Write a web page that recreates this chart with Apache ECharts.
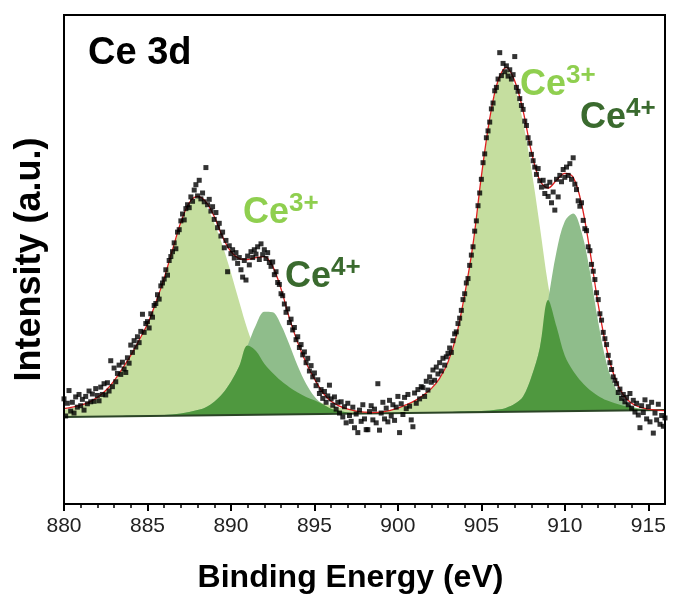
<!DOCTYPE html>
<html>
<head>
<meta charset="utf-8">
<script src="https://cdn.jsdelivr.net/npm/echarts@6/dist/echarts.min.js"></script>
<style>
  html, body { margin: 0; padding: 0; background: #fff; }
  #chart { width: 675px; height: 603px; }
</style>
</head>
<body>
<div id="chart"></div>
<script>
const FONT = "'Liberation Sans', Arial, Helvetica, sans-serif";

// Energy grid of the fitted curves (eV)
const fitEnergy = [
  880, 880.5, 881, 881.5, 882, 882.5, 883, 883.5, 884, 884.5,
  885, 885.5, 886, 886.5, 887, 887.5, 888, 888.5, 889, 889.5,
  890, 890.5, 891, 891.5, 892, 892.5, 893, 893.5, 894, 894.5,
  895, 895.5, 896, 896.5, 897, 897.5, 898, 898.5, 899, 899.5,
  900, 900.5, 901, 901.5, 902, 902.5, 903, 903.5, 904, 904.5,
  905, 905.5, 906, 906.5, 907, 907.5, 908, 908.5, 909, 909.5,
  910, 910.5, 911, 911.5, 912, 912.5, 913, 913.5, 914, 914.5,
  915, 915.5, 916
];

// Ce3+ component (3d5/2 and 3d3/2), baseline included
const fitCe3 = [
  19.3, 19.6, 20.0, 20.6, 21.6, 23.0, 25.0, 27.5, 30.2, 33.3,
  36.6, 41.0, 46.0, 51.8, 57.2, 61.2, 62.6, 61.0, 57.4, 52.8,
  47.3, 41.3, 35.6, 31.3, 28.7, 26.8, 25.2, 23.9, 22.8, 21.9,
  21.2, 20.6, 20.1, 19.7, 19.3, 19.0, 18.8, 18.7, 18.8, 19.1,
  19.5, 20.2, 21.0, 22.1, 23.5, 25.5, 28.7, 34.1, 42.4, 52.7,
  66.7, 78.4, 86.2, 88.8, 85.2, 78.0, 68.4, 56.8, 44.8, 36.3,
  30.3, 27.2, 25.0, 23.3, 22.1, 21.2, 20.6, 20.1, 19.7, 19.45,
  19.3, 19.2, 19.2
];

// Ce4+ component, baseline included
const fitCe4 = [
  17.85, 17.85, 17.9, 17.9, 17.95, 17.95, 18.0, 18.0, 18.05, 18.05,
  18.1, 18.15, 18.2, 18.3, 18.5, 18.8, 19.2, 19.8, 20.9, 22.6,
  25.0, 28.2, 32.4, 36.6, 39.3, 39.2, 36.6, 32.6, 28.2, 24.6,
  22.0, 20.4, 19.5, 19.0, 18.7, 18.55, 18.5, 18.5, 18.55, 18.6,
  18.6, 18.65, 18.7, 18.7, 18.75, 18.8, 18.8, 18.85, 18.9, 18.95,
  19.0, 19.1, 19.3, 19.7, 20.5, 22.0, 26.0, 31.9, 41.7, 51.6,
  57.8, 59.4, 55.6, 47.6, 37.2, 28.8, 24.0, 21.3, 20.0, 19.5,
  19.3, 19.2, 19.15
];

// Cumulative fit envelope
const fitEnvelope = [
  19.5, 19.8, 20.2, 20.8, 21.8, 23.2, 25.2, 27.7, 30.4, 33.5,
  36.8, 41.2, 46.2, 52.0, 57.6, 61.6, 62.9, 61.8, 58.8, 54.6,
  51.6, 50.2, 50.0, 50.4, 50.6, 48.6, 44.0, 38.0, 33.0, 28.9,
  25.6, 22.8, 21.0, 20.0, 19.4, 19.0, 18.8, 18.7, 18.8, 19.1,
  19.6, 20.3, 21.1, 22.2, 23.6, 25.7, 29.0, 34.4, 42.8, 53.1,
  67.0, 78.8, 86.6, 89.3, 86.5, 80.4, 72.0, 66.2, 64.6, 66.2,
  67.6, 66.8, 61.4, 51.8, 40.8, 31.8, 25.8, 22.3, 20.6, 19.8,
  19.4, 19.2, 19.1
];

// Linear background
const baselineEnergy = [880, 916];
const baselineLevel = [17.8, 19.2];

// Measured spectrum: 0.1 eV channels starting at 880 eV
const scanStart = 880;
const scanStep = 0.1;
const scanCounts = [
  21.5, 18.0, 20.6, 23.2, 19.0, 20.8, 18.6, 21.9, 19.8, 22.4,
  20.1, 21.4, 19.2, 22.0, 20.5, 23.1, 20.9, 22.5, 21.0, 23.6,
  22.2, 21.1, 23.9, 22.4, 24.6, 22.3, 24.8, 23.1, 29.3, 24.0,
  27.8, 25.0, 26.7, 28.4, 26.5, 29.0, 27.6, 26.9, 29.9, 28.8,
  32.5, 31.0, 33.4, 32.1, 34.2, 33.0, 35.3, 38.8, 35.1, 36.9,
  37.3, 36.0, 38.9, 38.2, 40.6, 41.0, 42.8, 41.9, 44.6, 45.2,
  46.0, 47.9, 46.8, 49.8, 50.6, 51.6, 53.4, 52.2, 55.6, 56.1,
  57.9, 59.3, 58.1, 60.4, 61.2, 60.6, 62.8, 61.9, 64.2, 65.3,
  63.0, 66.2, 62.4, 63.6, 61.8, 68.8, 61.2, 62.3, 59.9, 60.8,
  58.2, 59.6, 56.5, 57.4, 54.8, 55.6, 52.4, 53.9, 47.5, 52.8,
  51.2, 52.0, 50.3, 51.4, 49.2, 50.4, 47.9, 46.4, 49.8, 45.8,
  50.7, 48.9, 51.6, 50.4, 52.0, 51.1, 52.6, 50.0, 53.2, 51.0,
  52.0, 50.2, 51.4, 49.4, 48.6, 49.5, 46.9, 47.5, 45.3, 44.9,
  43.0, 42.6, 40.9, 39.2, 39.9, 37.1, 37.8, 35.6, 36.1, 33.6,
  34.2, 32.0, 32.6, 30.5, 31.1, 28.9, 29.8, 27.2, 28.3, 26.0,
  26.8, 24.2, 25.4, 22.6, 23.4, 21.6, 23.0, 20.8, 22.1, 24.3,
  21.5, 20.2, 21.9, 19.4, 20.8, 18.6, 20.9, 17.8, 19.9, 16.6,
  20.6, 18.1, 16.9, 19.8, 15.6, 18.4, 14.6, 19.2, 16.9, 20.3,
  17.4, 15.2, 15.2, 18.9, 20.1, 17.2, 19.4, 16.6, 24.6, 15.1,
  18.6, 20.8, 17.4, 19.6, 16.8, 21.2, 18.0, 20.3, 17.1, 19.8,
  22.0, 14.6, 20.5, 18.3, 21.8, 19.5, 22.4, 20.0, 17.2, 15.8,
  22.7, 20.6, 23.4, 21.5, 24.0, 23.8, 22.0, 25.1, 23.3, 26.0,
  24.9, 27.4, 25.3, 28.0, 26.6, 28.9, 27.2, 29.8, 28.4, 30.1,
  30.8, 31.9, 31.0, 33.4, 34.8, 35.2, 36.9, 38.0, 39.6, 41.8,
  43.0, 45.2, 46.1, 48.8, 50.9, 52.6, 55.8, 57.9, 61.0, 63.6,
  66.4, 69.8, 71.6, 74.9, 76.3, 78.1, 80.8, 82.0, 84.5, 85.2,
  86.9, 92.3, 87.6, 90.1, 88.4, 89.6, 87.5, 88.8, 86.9, 87.8,
  91.5, 85.2, 84.4, 82.9, 81.5, 80.7, 78.3, 77.4, 74.9, 73.8,
  71.5, 70.2, 68.9, 67.4, 68.6, 66.1, 64.8, 66.2, 63.5, 65.0,
  62.9, 65.8, 61.6, 63.8, 60.1, 66.4, 62.8, 67.2, 65.9, 68.4,
  66.8, 68.9, 67.2, 69.6, 66.4, 70.8, 65.4, 64.3, 62.0, 60.9,
  61.6, 58.0, 56.3, 55.9, 52.6, 51.8, 49.0, 47.6, 45.9, 43.2,
  41.8, 38.9, 37.6, 35.1, 33.8, 32.6, 30.4, 28.9, 27.5, 26.0,
  25.3, 24.6, 22.8, 23.5, 21.6, 22.4, 20.9, 21.8, 20.3, 22.6,
  19.6, 21.2, 18.8, 20.6, 18.2, 15.6, 20.1, 18.7, 21.3, 17.4,
  19.9, 16.8, 20.8, 14.5, 18.6, 17.2, 20.4, 16.3, 18.1, 15.9,
  17.6
];

// Labelled major ticks and 1 eV minor ticks
const xMajorTicks = [880, 885, 890, 895, 900, 905, 910, 915];
const xMinorTicks = [
  881, 882, 883, 884, 886, 887, 888, 889, 891, 892, 893, 894,
  896, 897, 898, 899, 901, 902, 903, 904, 906, 907, 908, 909,
  911, 912, 913, 914
];

const COLORS = {
  ce3Fill: '#c5de9f',
  ce4Fill: '#8fbd8b',
  overlapFill: '#4f983f',
  baseline: '#2b4426',
  envelope: '#de2020',
  ce3Text: '#8fcf4f',
  ce4Text: '#3a6a2e'
};

const pairs = (xs, ys) => xs.map((x, i) => [x, ys[i]]);
// region shared by both components: lower of the two curves
const sharedArea = fitCe3.map((v, i) => Math.min(v, fitCe4[i]));
const scanPoints = scanCounts.map((c, i) => [+(scanStart + i * scanStep).toFixed(1), c]);

function ionLabel(x, y, charge, color) {
  return [
    {
      type: 'text', x: x, y: y, z: 20,
      style: { text: 'Ce', font: 'bold 36px ' + FONT, fill: color,
               align: 'left', verticalAlign: 'middle', textAlign: 'left', textVerticalAlign: 'middle' }
    },
    {
      type: 'text', x: x + 46, y: y - 9, z: 20,
      style: { text: charge, font: 'bold 26px ' + FONT, fill: color,
               align: 'left', verticalAlign: 'middle', textAlign: 'left', textVerticalAlign: 'middle' }
    }
  ];
}

const areaSeries = (name, data, color, z) => ({
  type: 'line', name: name, data: data, smooth: 0.35, showSymbol: false, silent: true,
  lineStyle: { width: 0 }, areaStyle: { color: color, opacity: 1, origin: 'start' }, z: z
});

const gridBox = { left: 64, right: 10, top: 15, bottom: 99, containLabel: false, outerBoundsMode: 'none' };
const axisLineStyle = { show: true, onZero: false, lineStyle: { color: '#000', width: 2 } };

const chart = echarts.init(document.getElementById('chart'), null, { renderer: 'canvas' });

chart.setOption({
  animation: false,
  backgroundColor: '#fff',
  grid: [
    Object.assign({ show: true, borderColor: '#000', borderWidth: 2, backgroundColor: 'transparent' }, gridBox),
    Object.assign({}, gridBox)
  ],
  xAxis: [
    {
      type: 'value', gridIndex: 0, min: 880, max: 916, interval: 5, z: 10,
      name: 'Binding Energy (eV)', nameLocation: 'middle', nameGap: 58,
      nameTextStyle: { fontFamily: FONT, fontWeight: 'bold', fontSize: 32, color: '#000', padding: [0, 28, 0, 0] },
      axisLine: axisLineStyle,
      axisTick: { show: true, inside: false, length: 7, lineStyle: { color: '#000', width: 2 }, customValues: xMajorTicks },
      axisLabel: { show: true, fontFamily: FONT, fontSize: 21, color: '#222', margin: 12, customValues: xMajorTicks },
      splitLine: { show: false }, minorTick: { show: false }
    },
    {
      type: 'value', gridIndex: 1, min: 880, max: 916, interval: 1, z: 9, position: 'bottom',
      axisLine: axisLineStyle,
      axisTick: { show: true, inside: false, length: 4, lineStyle: { color: '#000', width: 1.5 }, customValues: xMinorTicks },
      axisLabel: { show: false }, splitLine: { show: false }
    }
  ],
  yAxis: [
    {
      type: 'value', gridIndex: 0, min: 0, max: 100, z: 10,
      name: 'Intensity (a.u.)', nameLocation: 'middle', nameGap: 16, nameRotate: 90,
      nameTextStyle: { fontFamily: FONT, fontWeight: 'bold', fontSize: 36, color: '#000' },
      axisLine: axisLineStyle,
      axisTick: { show: false }, axisLabel: { show: false }, splitLine: { show: false }
    },
    {
      type: 'value', gridIndex: 0, position: 'right', min: 0, max: 100, z: 10,
      axisLine: axisLineStyle,
      axisTick: { show: false }, axisLabel: { show: false }, splitLine: { show: false }
    },
    {
      type: 'value', gridIndex: 1, min: 0, max: 100,
      axisLine: { show: false }, axisTick: { show: false }, axisLabel: { show: false }, splitLine: { show: false }
    }
  ],
  series: [
    areaSeries('Ce3+', pairs(fitEnergy, fitCe3), COLORS.ce3Fill, 1),
    areaSeries('Ce4+', pairs(fitEnergy, fitCe4), COLORS.ce4Fill, 2),
    areaSeries('overlap', pairs(fitEnergy, sharedArea), COLORS.overlapFill, 3),
    {
      type: 'line', name: 'background fill', data: pairs(baselineEnergy, baselineLevel), showSymbol: false,
      silent: true, lineStyle: { width: 0 }, areaStyle: { color: '#fff', opacity: 1, origin: 'start' }, z: 4
    },
    {
      type: 'line', name: 'background', data: pairs(baselineEnergy, baselineLevel), showSymbol: false,
      silent: true, lineStyle: { color: COLORS.baseline, width: 2 }, z: 5
    },
    {
      type: 'line', name: 'envelope', data: pairs(fitEnergy, fitEnvelope), smooth: 0.35, showSymbol: false,
      silent: true, lineStyle: { color: COLORS.envelope, width: 1.3 }, z: 6
    },
    {
      type: 'scatter', name: 'data', data: scanPoints, symbol: 'rect', symbolSize: 5,
      itemStyle: { color: '#000' }, silent: true, z: 7
    },
    {
      // keeps the tick-only axis pair of the second grid active
      type: 'line', name: 'tick carrier', xAxisIndex: 1, yAxisIndex: 2, data: [], silent: true, showSymbol: false
    }
  ],
  graphic: [
    {
      type: 'text', x: 88, y: 54, z: 20,
      style: { text: 'Ce 3d', font: 'bold 38px ' + FONT, fill: '#000',
               align: 'left', verticalAlign: 'middle', textAlign: 'left', textVerticalAlign: 'middle' }
    },
    ...ionLabel(243, 213, '3+', COLORS.ce3Text),
    ...ionLabel(285, 277, '4+', COLORS.ce4Text),
    ...ionLabel(520, 85, '3+', COLORS.ce3Text),
    ...ionLabel(580, 118, '4+', COLORS.ce4Text)
  ]
});
</script>
</body>
</html>
